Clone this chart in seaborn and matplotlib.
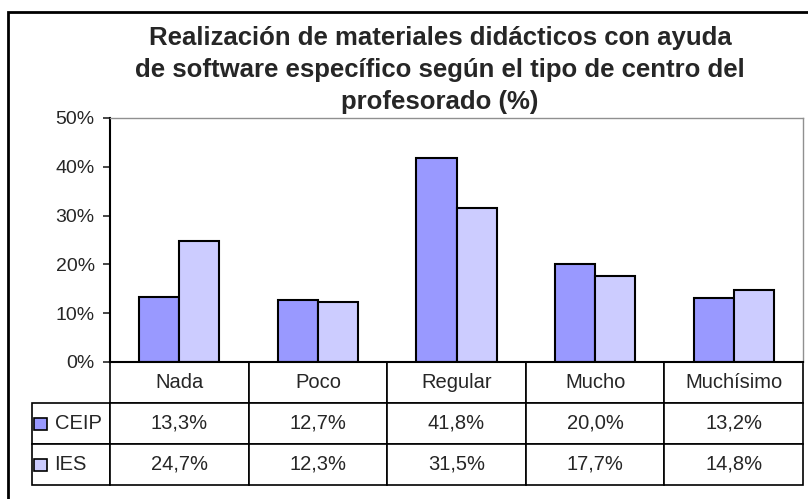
import numpy as np
import pandas as pd
import matplotlib.pyplot as plt
import seaborn as sns
from matplotlib.patches import Rectangle

# datos del grafico
categorias = ['Nada', 'Poco', 'Regular', 'Mucho', 'Muchísimo']
ceip = [13.3, 12.7, 41.8, 20.0, 13.2]
ies = [24.7, 12.3, 31.5, 17.7, 14.8]
series = ['CEIP', 'IES']
colores = ['#9999FF', '#CCCCFF']

df = pd.DataFrame({'Categoria': categorias * 2,
                   'Valor': ceip + ies,
                   'Centro': ['CEIP'] * 5 + ['IES'] * 5})

sns.set_style('white')
plt.rcParams['font.family'] = ['Liberation Sans', 'DejaVu Sans']

fig = plt.figure(figsize=(8.08, 4.99), dpi=100)
W, H = 808, 499
ax = fig.add_axes([110 / W, 1 - 362 / H, 693 / W, 244 / H])

sns.barplot(data=df, x='Categoria', y='Valor', hue='Centro', palette=colores,
            saturation=1, edgecolor='black', linewidth=1.5, width=0.58,
            ax=ax, legend=False)

ax.set_ylim(0, 50)
ax.set_yticks([0, 10, 20, 30, 40, 50])
ax.set_yticklabels([f'{v}%' for v in range(0, 60, 10)], fontsize=14)
ax.tick_params(axis='y', direction='out', length=5, width=1.2, left=True, pad=6)
ax.set_xticks([])
ax.set_xlabel('')
ax.set_ylabel('')
ax.set_xlim(-0.5, 4.5)
for s in ['left', 'bottom']:
    ax.spines[s].set_color('black')
    ax.spines[s].set_linewidth(1.5)
for s in ['top', 'right']:
    ax.spines[s].set_color('#909090')
    ax.spines[s].set_linewidth(1)

# tabla de datos
filas = [[''] + categorias,
         [series[0]] + [f'{v:.1f}%'.replace('.', ',') for v in ceip],
         [series[1]] + [f'{v:.1f}%'.replace('.', ',') for v in ies]]
izq = 78 / 693
alto = 123 / 244
tabla = ax.table(cellText=filas, cellLoc='center',
                 colWidths=[78] + [138.6] * 5,
                 bbox=[-izq, -alto, 1 + izq, alto])
tabla.auto_set_font_size(False)
tabla.set_fontsize(14.5)
for (r, c), cell in tabla.get_celld().items():
    cell.set_linewidth(1.2)
    if c == 0:
        cell.get_text().set_ha('left')
        cell.PAD = 0.29
tabla[0, 0].visible_edges = ''

# cuadritos de leyenda
for i, col in enumerate(colores):
    yc = [424, 465][i]
    fig.patches.append(Rectangle((34 / W, 1 - (yc + 6) / H), 13 / W, 12 / H,
                                 facecolor=col, edgecolor='black', lw=1.2,
                                 transform=fig.transFigure))

# marco del grafico
fig.patches.append(Rectangle((8 / W, -0.05), 1.1, 1 - 12 / H + 0.05, fill=False,
                             edgecolor='black', lw=2, transform=fig.transFigure))

fig.text(440 / W, 1 - 26 / H,
         'Realización de materiales didácticos con ayuda\n'
         'de software específico según el tipo de centro del\n'
         'profesorado (%)',
         ha='center', va='top', fontsize=18.5, fontweight='bold', linespacing=1.42)

fig.savefig('out.png', dpi=100)
